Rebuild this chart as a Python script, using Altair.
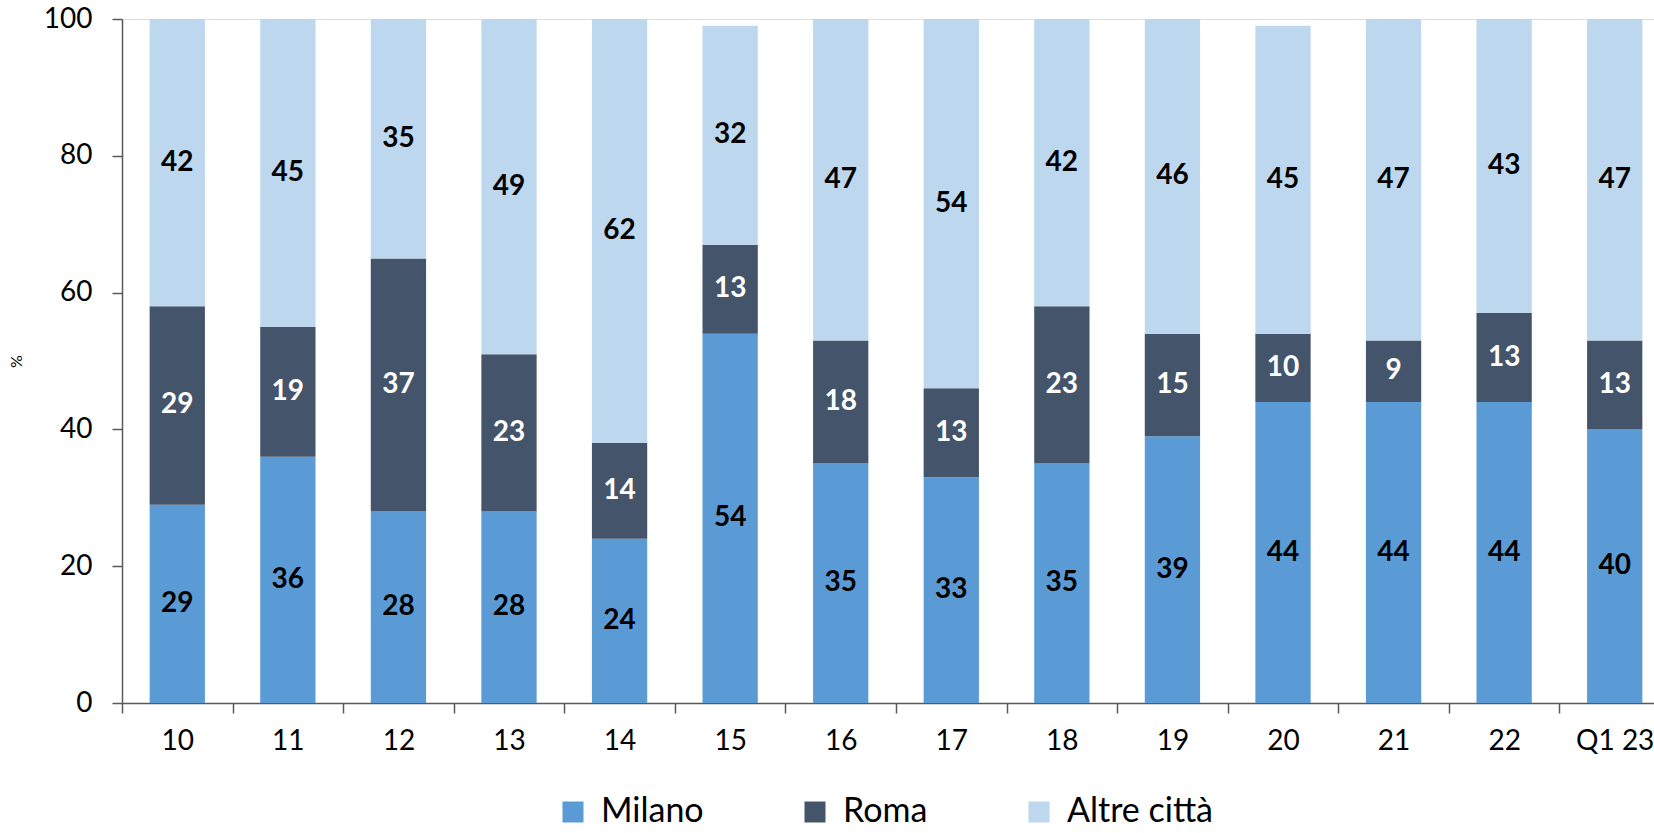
import altair as alt
import pandas as pd

# Periods on the x axis
periods = ["10", "11", "12", "13", "14", "15", "16", "17", "18", "19", "20", "21", "22", "Q1 23"]
# Share of volume by city (%)
milano = [29, 36, 28, 28, 24, 54, 35, 33, 35, 39, 44, 44, 44, 40]
roma = [29, 19, 37, 23, 14, 13, 18, 13, 23, 15, 10, 9, 13, 13]
altre = [42, 45, 35, 49, 62, 32, 47, 54, 42, 46, 45, 47, 43, 47]

series = ["Milano", "Roma", "Altre città"]
colors = ["#5B9BD5", "#44546A", "#BDD7EE"]
label_colors = ["#000000", "#FFFFFF", "#000000"]

rows = []
for i, p in enumerate(periods):
    for k, vals in enumerate([milano, roma, altre]):
        rows.append({"period": p, "series": series[k], "order": k,
                     "value": vals[i], "lc": label_colors[k]})
df = pd.DataFrame(rows)

FONT = "Lato"
AXIS_COLOR = "#595959"

x_enc = alt.X(
    "period:N",
    sort=periods,
    title=None,
    scale=alt.Scale(paddingInner=0, paddingOuter=0, range=[0, 1548]),
    axis=alt.Axis(
        tickBand="extent", tickSize=10, tickColor=AXIS_COLOR, tickWidth=1.5,
        domainColor=AXIS_COLOR, domainWidth=1.5, labelAngle=0,
        labelFontSize=28, labelColor="#000000", labelPadding=14, labelFont=FONT,
    ),
)

bars = alt.Chart(df).mark_bar(width={"band": 0.5}).encode(
    x=x_enc,
    y=alt.Y(
        "value:Q",
        stack="zero",
        scale=alt.Scale(domain=[0, 100], nice=False),
        title="%",
        axis=alt.Axis(
            values=[0, 20, 40, 60, 80, 100], grid=False, tickSize=10,
            tickColor=AXIS_COLOR, tickWidth=1.5, domainColor=AXIS_COLOR,
            domainWidth=1.5, labelFontSize=28, labelColor="#000000",
            labelPadding=20, labelFont=FONT, titleFontSize=16,
            titleFontWeight="normal", titleColor="#000000", titleFont=FONT,
            titleX=-98, titleY=342, titleAngle=270,
        ),
    ),
    color=alt.Color(
        "series:N",
        sort=series,
        scale=alt.Scale(domain=series, range=colors),
        legend=alt.Legend(
            title=None, orient="none", direction="horizontal",
            legendX=434, legendY=776, symbolType="square", symbolSize=441,
            symbolStrokeWidth=0, labelFontSize=34, labelColor="#000000",
            labelFont=FONT, labelOffset=11, columnPadding=94, labelLimit=400,
        ),
    ),
    order=alt.Order("order:Q", sort="ascending"),
)

labels = alt.Chart(df).transform_stack(
    stack="value", groupby=["period"], as_=["y0", "y1"],
    sort=[alt.SortField("order", order="ascending")],
).transform_calculate(
    mid="(datum.y0 + datum.y1) / 2"
).mark_text(fontSize=28, fontWeight="bold", font=FONT, baseline="middle").encode(
    x=alt.X("period:N", sort=periods),
    y=alt.Y("mid:Q"),
    text=alt.Text("value:Q"),
    color=alt.Color("lc:N", scale=None),
)

chart = alt.layer(bars, labels).properties(
    width=1532,
    height=684,
    autosize=alt.AutoSizeParams(type="none"),
    padding={"left": 122, "top": 19, "right": 0, "bottom": 130},
).configure_view(stroke=None).configure(font=FONT)

chart.save("out.html", embed_options={"renderer": "svg", "actions": False})
